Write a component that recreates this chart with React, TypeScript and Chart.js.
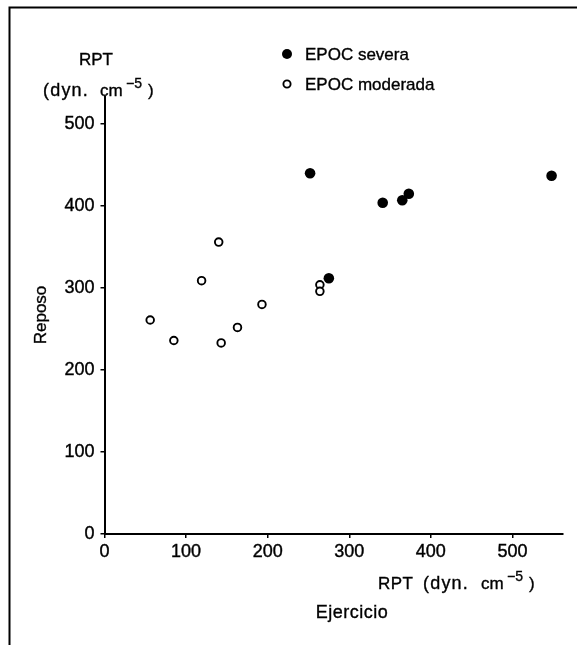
import React, { useEffect, useRef } from "react";
import { Chart, registerables } from "chart.js";

Chart.register(...registerables);

// ---- data ----
const seriesLabels = ["EPOC severa", "EPOC moderada"];
const severaX = [252, 275, 341, 365, 373, 548];
const severaY = [440, 312, 404, 407, 415, 437];
const moderadaX = [56, 85, 119, 140, 143, 163, 193, 264, 264];
const moderadaY = [261, 236, 309, 356, 233, 252, 280, 304, 296];
const xTickValues = [0, 100, 200, 300, 400, 500];
const yTickValues = [0, 100, 200, 300, 400, 500];
const xAxisMax = 562;
const yAxisMax = 533;
const yAxisTitle = "Reposo";
const xAxisTitle = "Ejercicio";
const unitName = "RPT";
const unitParts = ["(dyn.", "cm", "−5", ")"];

const FONT = '"Liberation Sans", Arial, Helvetica, sans-serif';

function txt(ctx: CanvasRenderingContext2D, s: string, x: number, y: number, size: number, spacing = 0) {
  ctx.font = `${size}px ${FONT}`;
  (ctx as any).letterSpacing = `${spacing}px`;
  ctx.fillText(s, x, y);
  ctx.lineWidth = 0.35;
  ctx.strokeText(s, x, y);
  (ctx as any).letterSpacing = "0px";
}

// draws "(dyn. cm^-5)" with left edge positions for each part
function drawUnit(ctx: CanvasRenderingContext2D, xs: number[], baseline: number) {
  ctx.textAlign = "left";
  ctx.textBaseline = "alphabetic";
  txt(ctx, unitParts[0], xs[0], baseline, 18, 1.2);
  txt(ctx, unitParts[1], xs[1], baseline, 17);
  txt(ctx, unitParts[2], xs[2], baseline - 8, 14);
  txt(ctx, unitParts[3], xs[3], baseline, 17);
}

const decorPlugin = {
  id: "decor",
  afterDraw(chart: any) {
    const ctx: CanvasRenderingContext2D = chart.ctx;
    ctx.save();
    ctx.fillStyle = "#000";
    ctx.strokeStyle = "#000";
    // frame
    ctx.lineWidth = 2;
    ctx.beginPath();
    ctx.moveTo(9.5, 645);
    ctx.lineTo(9.5, 7.5);
    ctx.lineTo(577, 7.5);
    ctx.stroke();

    // y unit
    ctx.textAlign = "center";
    ctx.textBaseline = "middle";
    txt(ctx, unitName, 96, 60, 17);
    drawUnit(ctx, [43, 100, 126, 148], 96);

    // legend
    chart.data.datasets.forEach((ds: any, i: number) => {
      const cy = 54 + i * 30;
      ctx.beginPath();
      if (i === 0) {
        ctx.arc(287, cy, 5, 0, Math.PI * 2);
        ctx.fill();
      } else {
        ctx.lineWidth = 1.9;
        ctx.arc(287, cy, 3.6, 0, Math.PI * 2);
        ctx.stroke();
      }
      ctx.textAlign = "left";
      ctx.textBaseline = "middle";
      txt(ctx, ds.label, 305, cy + 1, 17);
    });

    // y axis title
    ctx.save();
    ctx.translate(41, 315);
    ctx.rotate(-Math.PI / 2);
    ctx.textAlign = "center";
    ctx.textBaseline = "middle";
    txt(ctx, yAxisTitle, 0, 0, 17);
    ctx.restore();

    // x unit + title
    ctx.textAlign = "left";
    ctx.textBaseline = "alphabetic";
    txt(ctx, unitName, 378, 589, 17, 0.5);
    drawUnit(ctx, [423, 481, 507, 529], 589);
    ctx.textAlign = "center";
    ctx.textBaseline = "middle";
    txt(ctx, xAxisTitle, 352, 613, 18, 0.5);
    ctx.restore();
  },
};

export default function App() {
  const ref = useRef<HTMLCanvasElement>(null);
  useEffect(() => {
    document.body.style.margin = "0";
    const severa = severaX.map((x, i) => ({ x, y: severaY[i] }));
    const moderada = moderadaX.map((x, i) => ({ x, y: moderadaY[i] }));
    const tickFont = { family: FONT, size: 18 };
    const chart = new Chart(ref.current!, {
      type: "scatter",
      data: {
        datasets: [
          {
            label: seriesLabels[0],
            data: severa,
            pointStyle: "circle",
            pointRadius: 5.3,
            pointBackgroundColor: "#000",
            pointBorderColor: "#000",
            pointBorderWidth: 0,
          },
          {
            label: seriesLabels[1],
            data: moderada,
            pointStyle: "circle",
            pointRadius: 3.8,
            pointBackgroundColor: "#fff",
            pointBorderColor: "#000",
            pointBorderWidth: 1.9,
          },
        ],
      },
      options: {
        animation: false,
        responsive: false,
        maintainAspectRatio: false,
        layout: { padding: { left: 0, right: 14, top: 97, bottom: 71 } },
        plugins: { legend: { display: false }, tooltip: { enabled: false } },
        scales: {
          x: {
            type: "linear",
            min: 0,
            max: xAxisMax,
            afterFit: (s: any) => { s.height = 40; },
            afterBuildTicks: (s: any) => { s.ticks = xTickValues.map((v) => ({ value: v })); },
            grid: { drawOnChartArea: false, drawTicks: true, tickLength: 4, color: "#000", lineWidth: 1.5 },
            border: { display: true, color: "#000", width: 2 },
            ticks: { color: "#000", font: tickFont, padding: 3, maxRotation: 0, autoSkip: false, textStrokeColor: "#000", textStrokeWidth: 0.4 },
          },
          y: {
            type: "linear",
            min: 0,
            max: yAxisMax,
            afterFit: (s: any) => { s.width = 104.5; },
            afterBuildTicks: (s: any) => { s.ticks = yTickValues.map((v) => ({ value: v })); },
            grid: { drawOnChartArea: false, drawTicks: true, tickLength: 4, color: "#000", lineWidth: 1.5 },
            border: { display: true, color: "#000", width: 2 },
            ticks: { color: "#000", font: tickFont, padding: 6, autoSkip: false, textStrokeColor: "#000", textStrokeWidth: 0.4 },
          },
        },
      },
      plugins: [decorPlugin],
    } as any);
    return () => chart.destroy();
  }, []);
  return (
    <div style={{ position: "absolute", left: 0, top: 0, width: 577, height: 645, background: "#fff" }}>
      <canvas ref={ref} width={577} height={645} style={{ display: "block" }} />
    </div>
  );
}
